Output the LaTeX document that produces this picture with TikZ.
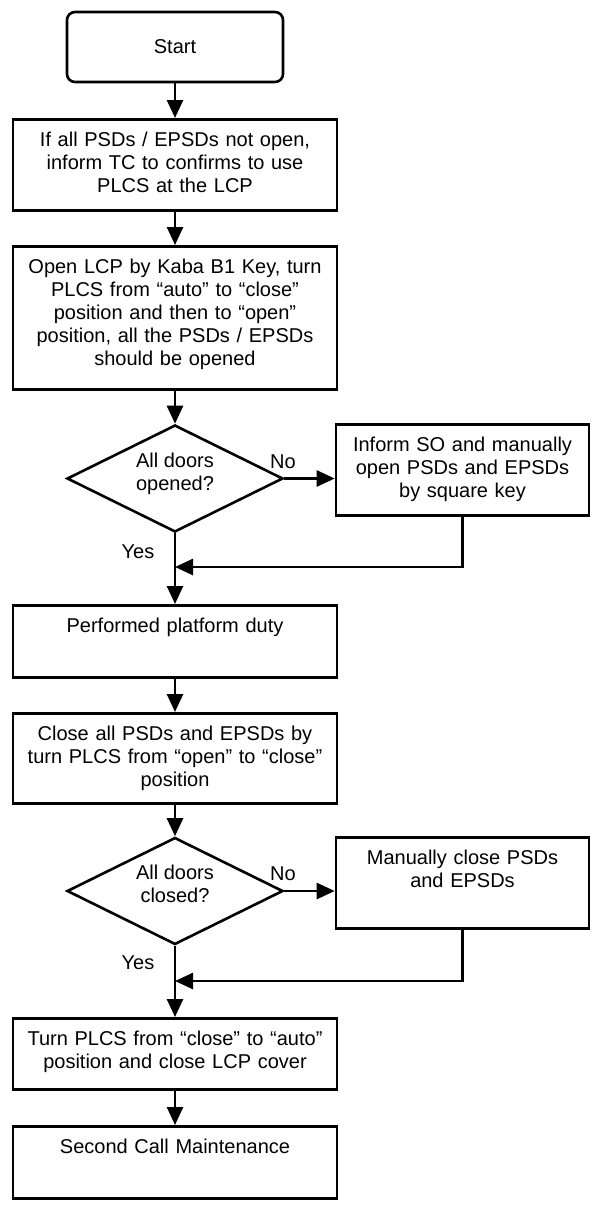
\documentclass[tikz,border=0pt]{standalone}
\usepackage{fontspec}
\setmainfont{Liberation Sans}
\usetikzlibrary{shapes.geometric, arrows.meta, positioning}

\tikzset{
  terminal/.style={draw, rounded corners=8pt, minimum width=216pt, minimum height=70pt},
  mainbox/.style={draw, anchor=north, text width=324pt, align=center, inner sep=0pt, text height=27pt},
  sidebox/.style={draw, anchor=north, text width=253pt, align=center, inner sep=0pt, text height=27pt},
  decision/.style={draw, diamond, aspect=2, minimum width=216pt, minimum height=107pt, inner sep=0pt, align=center, text depth=14pt}
}

\begin{document}
\begin{tikzpicture}[x=1pt, y=-1pt, >={Triangle[length=18pt,width=16pt]}, font=\fontsize{20}{23}\selectfont, line width=2.6pt]
	\useasboundingbox (0,0) rectangle (595,1205);
	
	% Start
	\node[terminal] (start) at (175,47) {Start};
	
	% Opening the doors
	\node[mainbox, text depth=64pt] (inform) at (175,118) {If all PSDs / EPSDs not open,\\ inform TC to confirms to use\\ PLCS at the LCP};
	\node[mainbox, text depth=116pt] (openlcp) at (175,245) {Open LCP by Kaba B1 Key, turn\\ PLCS from “auto” to “close”\\ position and then to “open”\\ position, all the PSDs / EPSDs\\ should be opened};
	\node[decision] (opened) at (175,478.5) {All doors\\ opened?};
	\node[sidebox, text depth=64pt] (manopen) at (462.5,423) {Inform SO and manually\\ open PSDs and EPSDs\\ by square key};
	\node[mainbox, text depth=45pt] (duty) at (175,604) {Performed platform duty};
	
	% Closing the doors
	\node[mainbox, text depth=63pt] (closeall) at (175,712) {Close all PSDs and EPSDs by\\ turn PLCS from “open” to “close”\\ position};
	\node[decision] (closed) at (175,891) {All doors\\ closed?};
	\node[sidebox, text depth=64pt] (manclose) at (462.5,836) {Manually close PSDs\\ and EPSDs};
	\node[mainbox, text depth=44pt] (turnauto) at (175,1017) {Turn PLCS from “close” to “auto”\\ position and close LCP cover};
	\node[mainbox, text depth=45pt] (second) at (175,1125) {Second Call Maintenance};
	
	% Join points
	\coordinate (joina) at (175,567);
	\coordinate (joinb) at (175,981);
	
	% Labels
	\node (noa) at (283,462) {No};
	\node (yesa) at (138,552) {Yes};
	\node (nob) at (283,874) {No};
	\node (yesb) at (138,963) {Yes};
	
	% Arrows
	\draw[->] (start) -- (inform);
	\draw[->] (inform) -- (openlcp);
	\draw[->] (openlcp) -- (opened);
	\draw[->] (opened.east) -- (opened.east -| manopen.west);
	\draw[->] (opened) -- (duty);
	\draw[->] (manopen) |- (joina);
	\draw[->] (duty) -- (closeall);
	\draw[->] (closeall) -- (closed);
	\draw[->] (closed.east) -- (closed.east -| manclose.west);
	\draw[->] (closed) -- (turnauto);
	\draw[->] (manclose) |- (joinb);
	\draw[->] (turnauto) -- (second);
\end{tikzpicture}
\end{document}
